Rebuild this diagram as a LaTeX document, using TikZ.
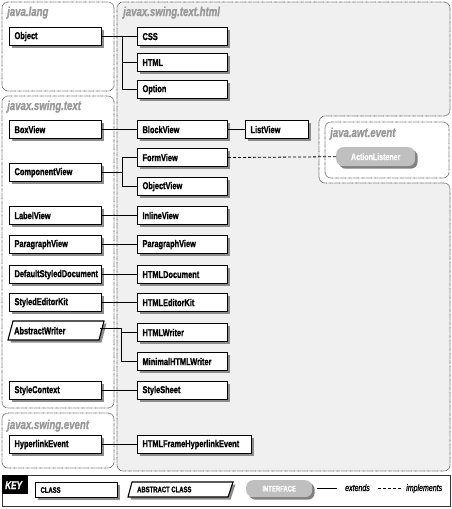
\documentclass[tikz,border=0pt]{standalone}
\usepackage{fontspec}
\setmainfont{Liberation Sans}
\newfontfamily\cf[FakeStretch=0.74,FakeBold=1.2]{Liberation Sans}
\usetikzlibrary{shadows}
\definecolor{regionbg}{HTML}{F0F0F0}
\definecolor{regionline}{HTML}{505050}
\definecolor{titlegray}{HTML}{999999}
\tikzset{
  region/.style={draw=regionline, line width=0.7pt, dash pattern=on 0.7pt off 0.6pt, rounded corners=6pt},
  title/.style={anchor=base west, inner sep=0pt, text=titlegray, font=\cf\bfseries\itshape\fontsize{13}{15}\selectfont},
  clsbase/.style={anchor=north west, minimum height=18pt, inner xsep=5pt, inner ysep=0pt,
    align=left, font=\cf\bfseries\fontsize{10}{11}\selectfont},
  cls/.style={clsbase, draw, line width=1.1pt, fill=white,
    general shadow={shadow xshift=2.5pt, shadow yshift=-2.5pt, fill=black!45}},
  wl/.style={text width=82pt},
  wc/.style={text width=80pt},
  ext/.style={line width=0.9pt},
  impl/.style={line width=0.8pt, dash pattern=on 3pt off 2pt},
  iface/.style={rounded corners=7pt, fill=black!25, text=white, anchor=north west, inner xsep=5pt, inner ysep=0pt,
    align=left, font=\cf\bfseries\fontsize{9.5}{10}\selectfont,
    general shadow={shadow xshift=2.5pt, shadow yshift=-2.5pt, fill=black!50}},
}
\begin{document}
\begin{tikzpicture}[x=1pt,y=-1pt]
\useasboundingbox (0,0) rectangle (452,509);
% regions
\draw[region, fill=regionbg] (117,2) -- (450,2) -- (450,116) -- (319,116) -- (319,183) -- (450,183) -- (450,471) -- (117,471) -- cycle;
\draw[region, fill=white] (325,122) rectangle (449,178);
\draw[region, fill=white] (2,2) rectangle (114,91);
\draw[region, fill=white] (2,96) rectangle (114,408);
\draw[region, fill=white] (2,413) rectangle (114,468);
\node[title] (t1) at (7,16) {java.lang};
\node[title] (t2) at (123,16) {javax.swing.text.html};
\node[title] (t3) at (7,110) {javax.swing.text};
\node[title] (t4) at (330,137) {java.awt.event};
\node[title] (t5) at (7,429) {javax.swing.event};
% classes
\node[cls,wl] (obj) at (9,27) {Object};
\node[cls,wc] (css) at (137,27) {CSS};
\node[cls,wc] (html) at (137,53) {HTML};
\node[cls,wc] (opt) at (137,80) {Option};
\node[cls,wl] (box) at (9,120) {BoxView};
\node[cls,wc] (block) at (137,120) {BlockView};
\node[cls,text width=53pt] (list) at (245,120) {ListView};
\node[cls,wl] (comp) at (9,163) {ComponentView};
\node[cls,wc] (form) at (137,148) {FormView};
\node[cls,wc] (objv) at (137,177) {ObjectView};
\node[cls,wl] (label) at (9,206) {LabelView};
\node[cls,wc] (inline) at (137,206) {InlineView};
\node[cls,wl] (para) at (9,235) {ParagraphView};
\node[cls,wc] (hpara) at (137,235) {ParagraphView};
\node[cls,wl] (dsd) at (9,265) {DefaultStyledDocument};
\node[cls,wc] (hdoc) at (137,265) {HTMLDocument};
\node[cls,wl] (sek) at (9,293) {StyledEditorKit};
\node[cls,wc] (hek) at (137,293) {HTMLEditorKit};
% abstract class
\fill[black!45] (15.5,323.5) -- (106.5,323.5) -- (101.5,342.5) -- (10.5,342.5) -- cycle;
\draw[line width=1.1pt, fill=white] (13,321) -- (104,321) -- (99,340) -- (8,340) -- cycle;
\node[clsbase, text width=81pt, minimum height=19pt] (aw) at (9,321) {AbstractWriter};
\node[cls,wc] (hw) at (137,323) {HTMLWriter};
\node[cls,wc] (mhw) at (137,352) {MinimalHTMLWriter};
\node[cls,wl] (sc) at (9,381) {StyleContext};
\node[cls,wc] (ss) at (137,381) {StyleSheet};
\node[cls,wl] (hle) at (9,435) {HyperlinkEvent};
\node[cls,text width=104pt] (hfhe) at (137,435) {HTMLFrameHyperlinkEvent};
\node[iface, minimum width=79pt, minimum height=19pt] (al) at (336,147) {ActionListener};
% connectors
\draw[ext] (obj.east) -- (css.west);
\draw[ext] (obj.east) -- ++(20,0) |- (html.west);
\draw[ext] (obj.east) -- ++(20,0) |- (opt.west);
\draw[ext] (box.east) -- (block.west);
\draw[ext] (block.east) -- (list.west);
\draw[ext] (comp.east) -- ++(20,0) |- (form.west);
\draw[ext] (comp.east) -- ++(20,0) |- (objv.west);
\draw[impl] (form.east) -- (al.west);
\draw[ext] (label.east) -- (inline.west);
\draw[ext] (para.east) -- (hpara.west);
\draw[ext] (dsd.east) -- (hdoc.west);
\draw[ext] (sek.east) -- (hek.west);
\draw[ext] ([yshift=2pt]aw.east) -- ++(21,0) |- (hw.west);
\draw[ext] ([yshift=2pt]aw.east) -- ++(21,0) |- (mhw.west);
\draw[ext] (sc.east) -- (ss.west);
\draw[ext] (hle.east) -- (hfhe.west);
% key
\draw[line width=0.9pt, black!80] (2,475) rectangle (450,506);
\fill[black] (2,475) rectangle (28,494);
\node[anchor=base west, inner sep=0pt, text=white, font=\cf\bfseries\itshape\fontsize{11}{12}\selectfont] (key) at (5,489) {KEY};
\node[cls, minimum height=15pt, text width=72pt, font=\cf\bfseries\fontsize{8}{9}\selectfont] (kcls) at (35,482) {CLASS};
\fill[black!45] (134.5,484.5) -- (235.5,484.5) -- (230.5,499.5) -- (130.5,499.5) -- cycle;
\draw[line width=1.1pt, fill=white] (132,482) -- (233,482) -- (228,497) -- (128,497) -- cycle;
\node[anchor=west, inner sep=0pt, font=\cf\bfseries\fontsize{8}{9}\selectfont] (kabs) at (137,489.5) {ABSTRACT CLASS};
\node[iface, minimum width=66pt, minimum height=17pt, font=\cf\bfseries\fontsize{8}{9}\selectfont] (kif) at (246,480) {INTERFACE};
\coordinate (e1) at (317,488);
\coordinate (e2) at (337,488);
\draw[ext] (e1) -- (e2);
\node[anchor=base west, inner sep=0pt, font=\cf\itshape\fontsize{9.5}{10}\selectfont] (kext) at (345,491) {extends};
\coordinate (i1) at (378,488);
\coordinate (i2) at (403,488);
\draw[impl] (i1) -- (i2);
\node[anchor=base west, inner sep=0pt, font=\cf\itshape\fontsize{9.5}{10}\selectfont] (kimp) at (406,491) {implements};
\end{tikzpicture}
\end{document}
